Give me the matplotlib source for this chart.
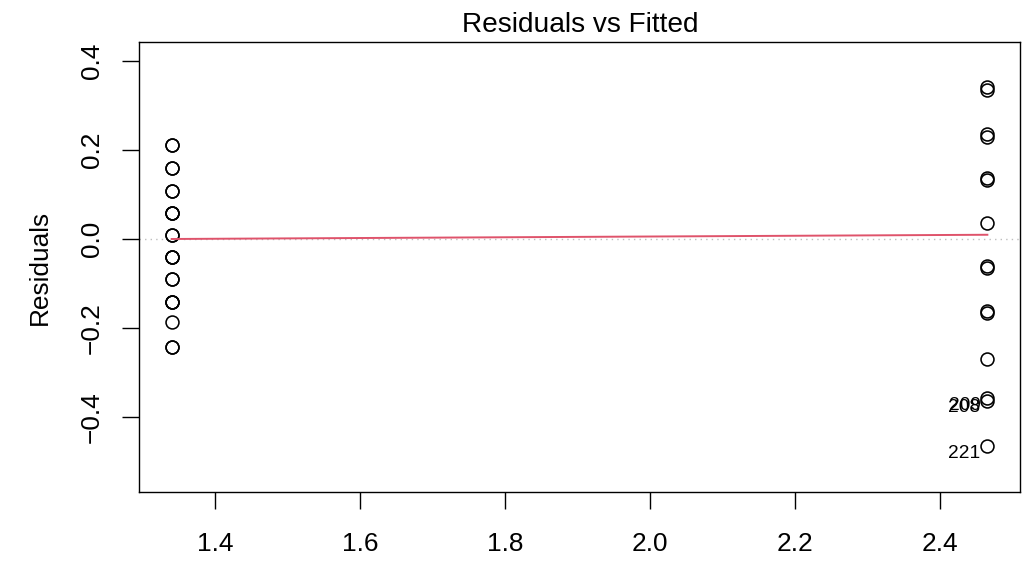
import matplotlib
matplotlib.use("Agg")
import matplotlib.pyplot as plt

plt.rcParams['font.family'] = ['Liberation Sans', 'DejaVu Sans']

# Data
fitted_low = 1.34
fitted_high = 2.465
resid_low = [0.211, 0.211, 0.160, 0.160, 0.109, 0.109, 0.059, 0.059, 0.059,
             0.010, 0.010, -0.040, -0.040, -0.040, -0.091, -0.091,
             -0.141, -0.141, -0.141, -0.187, -0.242, -0.242]
resid_high = [0.341, 0.336, 0.237, 0.230, 0.138, 0.133, 0.037,
              -0.060, -0.066, -0.162, -0.166, -0.269,
              -0.358, -0.364, -0.466]
label_names = ["209", "208", "221"]
label_resid = [-0.358, -0.364, -0.466]
smooth_x = [1.34, 2.465]
smooth_y = [0.0, 0.0095]
x_ticks = [1.4, 1.6, 1.8, 2.0, 2.2, 2.4]
y_ticks = [-0.4, -0.2, 0.0, 0.2, 0.4]

fig = plt.figure(figsize=(10.25, 5.74), dpi=100)
ax = fig.add_axes([139/1025, 1-492/574, (1020-139)/1025, (492-42)/574])

xs = [fitted_low]*len(resid_low) + [fitted_high]*len(resid_high)
ys = resid_low + resid_high
ax.plot(xs, ys, linestyle='none', marker='o', markersize=9.3,
        markerfacecolor='none', markeredgecolor='black', markeredgewidth=1.15)

ax.axhline(0, color='#BEBEBE', linestyle=(0, (1, 3)), linewidth=1.0, zorder=0)
ax.plot(smooth_x, smooth_y, color='#DF536B', linewidth=1.4)

for name, r in zip(label_names, label_resid):
    ax.annotate(name, (fitted_high, r), xytext=(-5, -5), textcoords='offset points',
                ha='right', va='center', fontsize=13.8)

ax.set_xlim(1.295, 2.51)
ax.set_ylim(-0.569, 0.443)
ax.set_xticks(x_ticks)
ax.set_xticklabels([f"{v:.1f}" for v in x_ticks])
ax.set_yticks(y_ticks)
ax.set_yticklabels([f"{v:.1f}".replace("-", "\u2212") for v in y_ticks],
                   rotation=90, va='center')
ax.tick_params(axis='both', direction='out', length=12.5, width=1.0, labelsize=18.9, colors='black')
ax.tick_params(axis='x', pad=16.5)
ax.tick_params(axis='y', pad=13)
for s in ax.spines.values():
    s.set_linewidth(1.0)
    s.set_color('black')

fig.text(40/1025, 1-267/574, "Residuals", rotation=90, ha='center', va='center', fontsize=18.9)
fig.text((463+698)/2/1025, 1-32/574, "Residuals vs Fitted", ha='center', va='baseline', fontsize=20.2)

fig.savefig("out.png", dpi=100)
